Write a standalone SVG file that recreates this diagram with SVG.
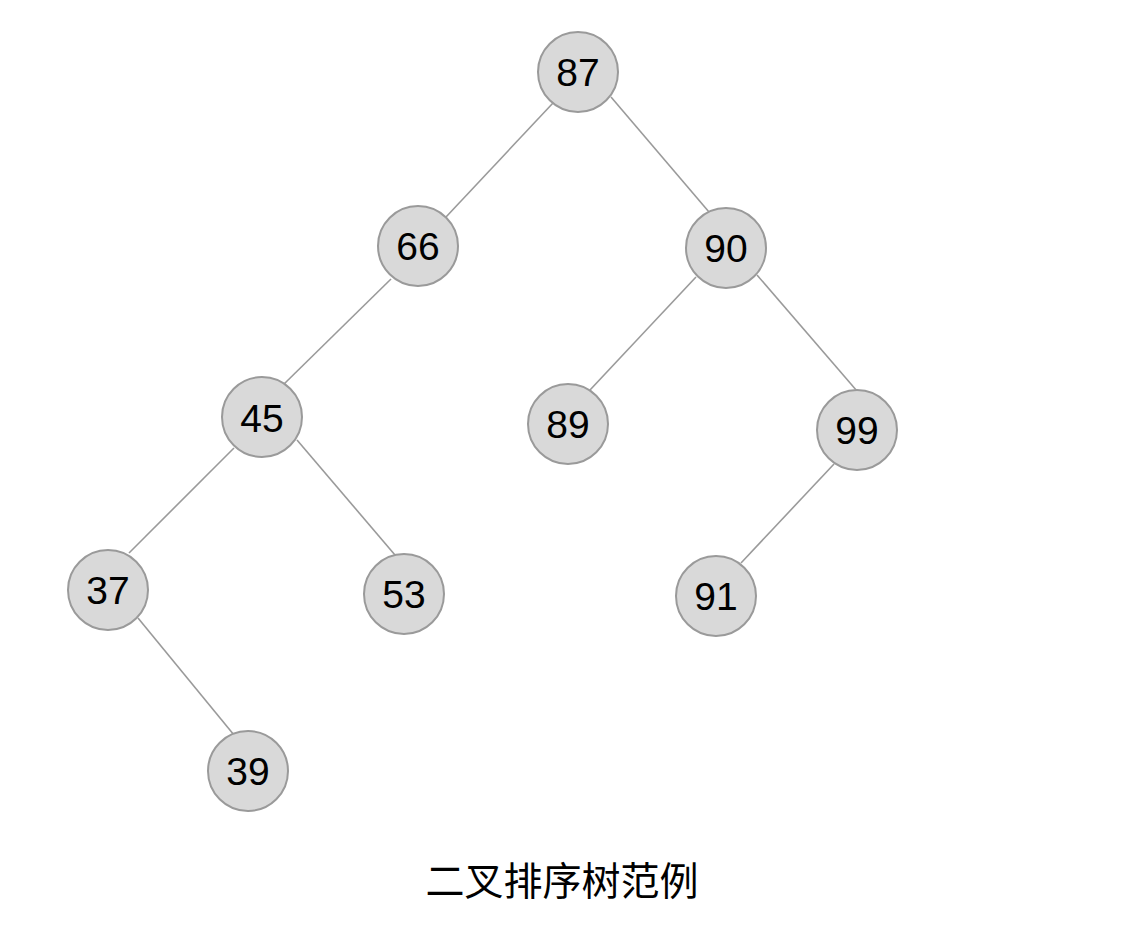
<svg xmlns="http://www.w3.org/2000/svg" width="1146" height="942" viewBox="0 0 1146 942">
<style>
.n circle{fill:#d9d9d9;stroke:#9a9a9a;stroke-width:2}
.n text{font-family:"Liberation Sans",Arial,sans-serif;font-size:39px;fill:#000;text-anchor:middle}
#edges line{stroke:#9a9a9a;stroke-width:1.6}
.cap{font-family:"Noto Sans CJK SC",sans-serif;font-size:39px;fill:#000;text-anchor:middle}
</style>
<rect width="1146" height="942" fill="#fff"/>
<g id="edges">
<line x1="553" y1="103" x2="446" y2="217"/>
<line x1="611" y1="97" x2="709" y2="212"/>
<line x1="391" y1="279" x2="283" y2="385"/>
<line x1="696" y1="277" x2="590" y2="390"/>
<line x1="757" y1="275" x2="857" y2="391"/>
<line x1="234" y1="448" x2="129" y2="553"/>
<line x1="297" y1="440" x2="395" y2="555"/>
<line x1="834" y1="464" x2="741" y2="563"/>
<line x1="138" y1="618" x2="234" y2="735"/>
</g>
<g id="n87" class="n"><circle cx="578" cy="72" r="40"/><text x="578" y="86">87</text></g>
<g id="n66" class="n"><circle cx="418" cy="246" r="40"/><text x="418" y="260">66</text></g>
<g id="n90" class="n"><circle cx="726" cy="248" r="40"/><text x="726" y="262">90</text></g>
<g id="n45" class="n"><circle cx="262" cy="417" r="40"/><text x="262" y="432">45</text></g>
<g id="n89" class="n"><circle cx="568" cy="424" r="40"/><text x="568" y="438">89</text></g>
<g id="n99" class="n"><circle cx="857" cy="430" r="40"/><text x="857" y="444">99</text></g>
<g id="n37" class="n"><circle cx="108" cy="590" r="40"/><text x="108" y="604">37</text></g>
<g id="n53" class="n"><circle cx="404" cy="594" r="40"/><text x="404" y="608">53</text></g>
<g id="n91" class="n"><circle cx="716" cy="596" r="40"/><text x="716" y="610">91</text></g>
<g id="n39" class="n"><circle cx="248" cy="771" r="40"/><text x="248" y="785">39</text></g>
<text class="cap" x="562" y="895">二叉排序树范例</text>
</svg>
